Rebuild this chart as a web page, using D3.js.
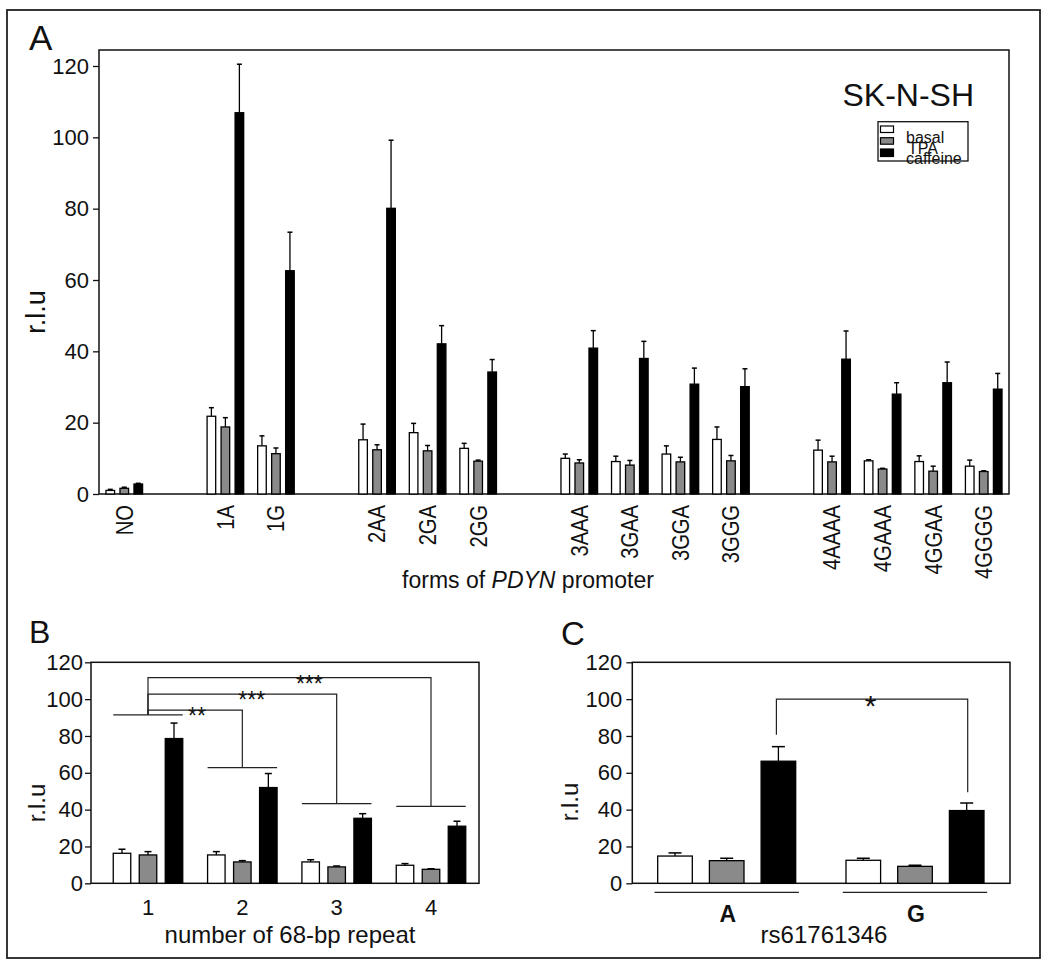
<!DOCTYPE html>
<html>
<head>
<meta charset="utf-8">
<script src="https://cdn.jsdelivr.net/npm/d3@7"></script>
<style>
body { margin: 0; background: #fff; }
svg { display: block; font-family: "Liberation Sans", Arial, sans-serif; }
</style>
</head>
<body>
<script>
// ---- data ----
var seriesNames = ["basal", "TPA", "caffeine"];
var ticksY = [0, 20, 40, 60, 80, 100, 120];

// panel A: forms of PDYN promoter, grouped by number of repeats
var formGroupsA = [["NO"], ["1A", "1G"], ["2AA", "2GA", "2GG"],
    ["3AAA", "3GAA", "3GGA", "3GGG"], ["4AAAA", "4GAAA", "4GGAA", "4GGGG"]];
var basalA    = [1.0, 21.8, 13.5, 15.2, 17.2, 12.8, 10.0, 9.1, 11.2, 15.3, 12.3, 9.3, 9.1, 7.8];
var basalErrA = [0.3, 2.4, 2.8, 4.4, 2.6, 1.4, 1.2, 1.5, 2.3, 3.5, 2.8, 0.3, 1.6, 1.7];
var tpaA      = [1.6, 18.8, 11.3, 12.4, 12.1, 9.2, 8.7, 8.1, 9.0, 9.3, 9.0, 7.0, 6.4, 6.3];
var tpaErrA   = [0.3, 2.6, 1.6, 1.4, 1.5, 0.3, 0.9, 1.3, 1.3, 1.5, 1.6, 0.2, 1.4, 0.2];
var caffA     = [2.8, 106.9, 62.6, 80.1, 42.1, 34.2, 40.9, 38.0, 30.8, 30.1, 37.8, 28.0, 31.2, 29.4];
var caffErrA  = [0.2, 13.6, 10.8, 19.1, 5.1, 3.5, 4.9, 4.8, 4.5, 5.0, 7.9, 3.2, 5.8, 4.4];

// panel B: number of 68-bp repeat
var repeatsB  = ["1", "2", "3", "4"];
var basalB    = [16.3, 15.4, 11.6, 9.8];
var basalErrB = [2.2, 1.8, 1.2, 0.9];
var tpaB      = [15.4, 11.6, 8.9, 7.6];
var tpaErrB   = [1.8, 0.7, 0.5, 0.3];
var caffB     = [78.6, 52.0, 35.3, 31.0];
var caffErrB  = [8.4, 7.6, 2.5, 2.7];
var groupLineB = [91.5, 62.8, 43.3, 41.8];   // r.l.u level of the line over each group
var bracketB   = [94.0, 102.7, 111.7];       // 1 vs 2, 1 vs 3, 1 vs 4
var starsB     = ["**", "***", "***"];
var starPosB   = [1.52, 2.1, 2.71];

// panel C: rs61761346 allele
var allelesC  = ["A", "G"];
var basalC    = [14.8, 12.5];
var basalErrC = [1.7, 1.1];
var tpaC      = [12.3, 9.2];
var tpaErrC   = [1.3, 0.6];
var caffC     = [66.3, 39.5];
var caffErrC  = [7.9, 4.1];
var bracketC  = [80.6, 100, 49.5];  // start over A, top, end over G
var starC     = "*";

// ---- styles ----
var fills = { basal: "#fff", TPA: "#8a8a8a", caffeine: "#000" };
var FONT = "\"Liberation Sans\", Arial, sans-serif";

var svg = d3.select("body").append("svg")
    .attr("width", 1050)
    .attr("height", 967);

svg.append("rect")
    .attr("x", 7).attr("y", 10).attr("width", 1033).attr("height", 948)
    .attr("fill", "none").attr("stroke", "#222").attr("stroke-width", 1.8);

/**
 * Left axis with the 0..120 ticks
 */
function drawYAxis(g, y, x0, pad) {
    var ax = g.append("g")
        .attr("transform", "translate(" + x0 + ",0)")
        .call(d3.axisLeft(y).tickValues(ticksY).tickSize(6).tickSizeOuter(0).tickPadding(pad));
    ax.select(".domain").remove();
    ax.selectAll("line").attr("stroke", "#111").attr("stroke-width", 1.3);
    ax.selectAll("text").attr("font-size", 22).attr("font-family", FONT).attr("fill", "#111");
}

/**
 * Bars with upward error bars for one series
 */
function drawSeries(g, cats, vals, errs, name, cx, y, bw, cw) {
    var rows = cats.map(function (c, i) { return { cat: c, v: vals[i], e: errs[i] }; });
    var gs = g.append("g");
    gs.selectAll("line.stem").data(rows).enter().append("line")
        .attr("x1", function (d) { return cx(d.cat, name); })
        .attr("x2", function (d) { return cx(d.cat, name); })
        .attr("y1", function (d) { return y(d.v); })
        .attr("y2", function (d) { return y(d.v + d.e); })
        .attr("stroke", "#000").attr("stroke-width", 1.3);
    gs.selectAll("line.cap").data(rows).enter().append("line")
        .attr("x1", function (d) { return cx(d.cat, name) - cw / 2; })
        .attr("x2", function (d) { return cx(d.cat, name) + cw / 2; })
        .attr("y1", function (d) { return y(d.v + d.e); })
        .attr("y2", function (d) { return y(d.v + d.e); })
        .attr("stroke", "#000").attr("stroke-width", 1.5);
    gs.selectAll("rect").data(rows).enter().append("rect")
        .attr("x", function (d) { return cx(d.cat, name) - bw / 2; })
        .attr("y", function (d) { return y(d.v); })
        .attr("width", bw)
        .attr("height", function (d) { return y(0) - y(d.v); })
        .attr("fill", fills[name])
        .attr("stroke", "#000").attr("stroke-width", 1.3);
}

function label(txt, x, y, size, opts) {
    var t = svg.append("text").attr("x", x).attr("y", y)
        .attr("font-size", size).attr("fill", "#111").text(txt);
    if (opts && opts.anchor) t.attr("text-anchor", opts.anchor);
    if (opts && opts.bold) t.attr("font-weight", "bold");
    return t;
}

function yTitle(x, y, size) {
    svg.append("text")
        .attr("transform", "translate(" + x + "," + y + ") rotate(-90)")
        .attr("text-anchor", "middle").attr("font-size", size).attr("fill", "#111")
        .text("r.l.u");
}

// ================= panel A =================
var slotsA = [];
formGroupsA.forEach(function (grp, i) {
    if (i > 0) slotsA.push("gap" + i);
    grp.forEach(function (f) { slotsA.push(f); });
});
var formsA = d3.merge(formGroupsA);

var xA = d3.scaleBand().domain(slotsA).range([99, 1009]).padding(0);
var yA = d3.scaleLinear().domain([0, 120]).range([494, 66]);
var subA = d3.scalePoint().domain(seriesNames).range([-14, 14]);
var cxA = function (c, s) { return xA(c) + xA.bandwidth() / 2 + subA(s); };

var gA = svg.append("g");
gA.append("rect").attr("x", 99).attr("y", 50).attr("width", 910).attr("height", 444)
    .attr("fill", "none").attr("stroke", "#111").attr("stroke-width", 1.5);
drawYAxis(gA, yA, 99, 4);
drawSeries(gA, formsA, basalA, basalErrA, "basal", cxA, yA, 8.6, 5);
drawSeries(gA, formsA, tpaA, tpaErrA, "TPA", cxA, yA, 8.6, 5);
drawSeries(gA, formsA, caffA, caffErrA, "caffeine", cxA, yA, 8.6, 5);

gA.selectAll("text.form").data(formsA).enter().append("text")
    .attr("transform", function (d) {
        return "translate(" + (xA(d) + xA.bandwidth() / 2) + ",505) rotate(-90) scale(0.84,1)";
    })
    .attr("dy", "0.35em").attr("text-anchor", "end")
    .attr("font-size", 24).attr("fill", "#111")
    .text(function (d) { return d; });

var tA = label("forms of ", 528, 588, 23, { anchor: "middle" });
tA.append("tspan").attr("font-style", "italic").text("PDYN");
tA.append("tspan").text(" promoter");

label("A", 29, 50, 35);
yTitle(45, 312, 27);
label("SK-N-SH", 974, 106, 32, { anchor: "end" });

// legend (entries overlap in the original figure)
var leg = svg.append("g");
leg.append("rect").attr("x", 878).attr("y", 121.7).attr("width", 90).attr("height", 39.3)
    .attr("fill", "none").attr("stroke", "#111").attr("stroke-width", 1.3);
var legY = [126, 137.7, 149];
var legH = [6.5, 6.5, 7.5];
var legTextY = [142.7, 154, 164.3];
seriesNames.forEach(function (s, i) {
    leg.append("rect").attr("x", 880.5).attr("y", legY[i]).attr("width", 13).attr("height", legH[i])
        .attr("fill", fills[s]).attr("stroke", "#000").attr("stroke-width", 1.2);
    leg.append("text").attr("x", i === 1 ? 908 : 906).attr("y", legTextY[i])
        .attr("font-size", 16).attr("fill", "#111").text(s);
});

// ================= panel B =================
var xB = d3.scaleLinear().domain([1, 4]).range([148, 431]);
var yB = d3.scaleLinear().domain([0, 120]).range([883.3, 662.3]);
var subB = d3.scalePoint().domain(seriesNames).range([-26, 26]);
var cxB = function (c, s) { return xB(+c) + subB(s); };

var gB = svg.append("g");
gB.append("rect").attr("x", 91).attr("y", yB(120)).attr("width", 388).attr("height", yB(0) - yB(120))
    .attr("fill", "none").attr("stroke", "#111").attr("stroke-width", 1.5);
drawYAxis(gB, yB, 91, 2);
drawSeries(gB, repeatsB, basalB, basalErrB, "basal", cxB, yB, 17.5, 7);
drawSeries(gB, repeatsB, tpaB, tpaErrB, "TPA", cxB, yB, 17.5, 7);
drawSeries(gB, repeatsB, caffB, caffErrB, "caffeine", cxB, yB, 17.5, 7);

// significance lines
repeatsB.forEach(function (r, i) {
    gB.append("line")
        .attr("x1", cxB(r, "basal") - 8.75).attr("x2", cxB(r, "caffeine") + 8.75)
        .attr("y1", yB(groupLineB[i])).attr("y2", yB(groupLineB[i]))
        .attr("stroke", "#222").attr("stroke-width", 1.2);
});
bracketB.forEach(function (lv, k) {
    var to = repeatsB[k + 1];
    var p = d3.path();
    p.moveTo(xB(1), yB(groupLineB[0]));
    p.lineTo(xB(1), yB(lv));
    p.lineTo(xB(+to), yB(lv));
    p.lineTo(xB(+to), yB(groupLineB[k + 1]));
    gB.append("path").attr("d", p.toString()).attr("fill", "none")
        .attr("stroke", "#222").attr("stroke-width", 1.2);
    gB.append("text").attr("x", xB(starPosB[k])).attr("y", yB(lv) + 14)
        .attr("text-anchor", "middle").attr("font-size", 23).attr("fill", "#111")
        .text(starsB[k]);
});

repeatsB.forEach(function (r) {
    label(r, xB(+r), 915, 22, { anchor: "middle" });
});
label("number of 68-bp repeat", 290, 943, 24, { anchor: "middle" });
label("B", 29, 643, 32);
yTitle(45, 803, 24);

// ================= panel C =================
var xC = d3.scalePoint().domain(allelesC).range([726.7, 915]);
var yC = d3.scaleLinear().domain([0, 120]).range([883.3, 662.3]);
var subC = d3.scalePoint().domain(seriesNames).range([-51.7, 51.7]);
var cxC = function (c, s) { return xC(c) + subC(s); };

var gC = svg.append("g");
gC.append("rect").attr("x", 632.3).attr("y", yC(120)).attr("width", 377.7).attr("height", yC(0) - yC(120))
    .attr("fill", "none").attr("stroke", "#111").attr("stroke-width", 1.5);
drawYAxis(gC, yC, 632.3, 4);
drawSeries(gC, allelesC, basalC, basalErrC, "basal", cxC, yC, 34.6, 13);
drawSeries(gC, allelesC, tpaC, tpaErrC, "TPA", cxC, yC, 34.6, 13);
drawSeries(gC, allelesC, caffC, caffErrC, "caffeine", cxC, yC, 34.6, 13);

var pC = d3.path();
pC.moveTo(cxC("A", "caffeine") - 2, yC(bracketC[0]));
pC.lineTo(cxC("A", "caffeine") - 2, yC(bracketC[1]));
pC.lineTo(cxC("G", "caffeine") + 1, yC(bracketC[1]));
pC.lineTo(cxC("G", "caffeine") + 1, yC(bracketC[2]));
gC.append("path").attr("d", pC.toString()).attr("fill", "none")
    .attr("stroke", "#222").attr("stroke-width", 1.2);
gC.append("text")
    .attr("x", (cxC("A", "caffeine") + cxC("G", "caffeine")) / 2 - 2)
    .attr("y", yC(bracketC[1]) + 17)
    .attr("text-anchor", "middle").attr("font-size", 30).attr("fill", "#111")
    .text(starC);

allelesC.forEach(function (a) {
    gC.append("line")
        .attr("x1", cxC(a, "basal") - 20.5).attr("x2", cxC(a, "caffeine") + 20.5)
        .attr("y1", yC(0) + 9).attr("y2", yC(0) + 9)
        .attr("stroke", "#222").attr("stroke-width", 1.2);
    label(a, xC(a) + 1, 921.7, 23, { anchor: "middle", bold: true });
});
label("rs61761346", 824, 943, 24, { anchor: "middle" });
label("C", 561, 645, 33);
yTitle(578, 802, 24);
</script>
</body>
</html>
